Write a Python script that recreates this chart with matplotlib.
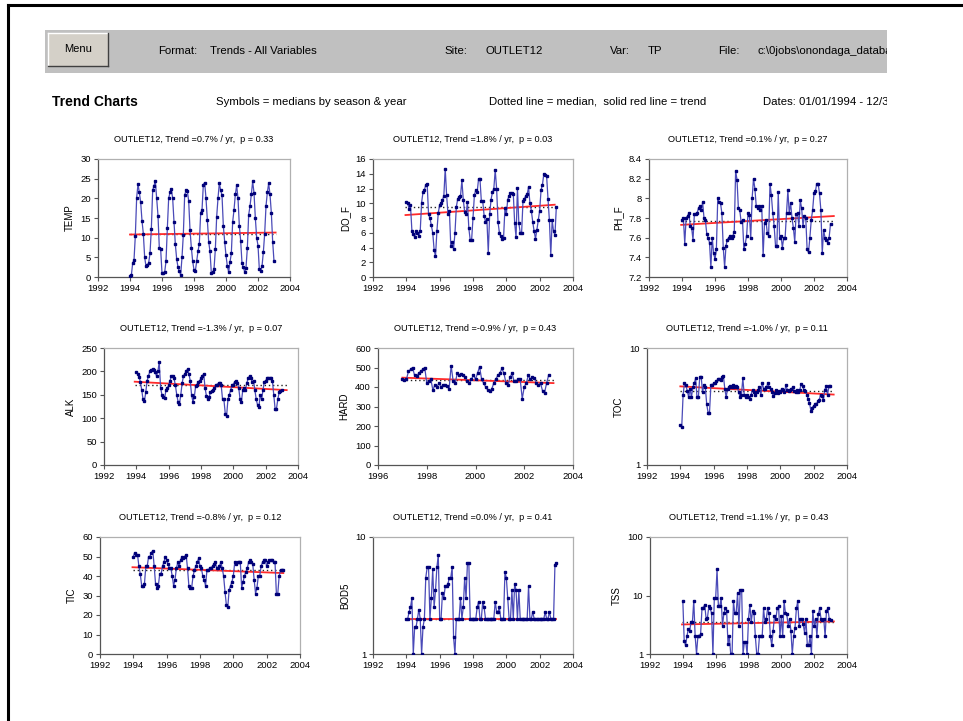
import numpy as np
import matplotlib
matplotlib.use("Agg")
import matplotlib.pyplot as plt
import matplotlib.patches as patches
from matplotlib.lines import Line2D

plt.rcParams['font.family'] = ['Liberation Sans Narrow', 'Liberation Sans', 'DejaVu Sans']

SITE = "OUTLET12"

# monthly medians, first value at start year
temp = [0.2, 0.4, 3.5, 4.3, 10.5, 20.2, 23.6, 21.5, 19.0, 14.3, 11.0, 5.0,
        2.7, 3.0, 3.6, 6.0, 12.2, 22.0, 23.2, 24.5, 20.0, 15.6, 7.3, 7.0,
        1.0, 1.0, 1.2, 4.0, 12.4, 20.0, 21.5, 22.3, 20.0, 14.0, 8.3, 4.6,
        2.5, 1.5, 0.5, 5.0, 10.8, 20.8, 22.0, 21.8, 19.4, 12.0, 7.5, 4.0,
        1.8, 1.5, 4.0, 6.5, 8.5, 16.3, 17.0, 23.5, 24.0, 20.0, 14.5, 9.0,
        6.5, 1.0, 1.2, 2.0, 7.0, 15.3, 20.0, 23.9, 22.0, 20.8, 13.0, 9.0,
        5.5, 2.8, 1.2, 3.8, 6.0, 14.0, 17.0, 21.0, 23.3, 20.0, 13.0, 9.2,
        3.5, 2.5, 1.3, 2.4, 7.3, 15.8, 18.0, 21.0, 24.3, 21.4, 15.0, 10.0,
        8.0, 2.0, 1.5, 2.7, 6.3, 11.0, 18.0, 21.5, 23.8, 21.0, 16.3, 9.0,
        4.0]

do_f = [10.2, 10.0, 9.2, 9.7, 6.3, 5.8, 5.4, 6.3, 6.0, 5.6, 6.2, 10.1,
        11.5, 11.8, 12.5, 12.6, 8.5, 8.0, 7.0, 6.0, 3.7, 2.8, 6.2, 8.7,
        9.8, 10.0, 10.4, 11.0, 14.7, 11.1, 8.5, 9.0, 4.2, 4.8, 3.8, 5.9,
        9.5, 10.6, 10.8, 11.0, 13.1, 10.5, 8.8, 8.5, 10.2, 6.6, 5.0, 5.0,
        8.0, 11.1, 11.8, 11.5, 13.3, 13.3, 10.3, 10.3, 8.3, 7.5, 7.8, 3.3,
        8.5, 10.5, 11.5, 12.0, 14.5, 12.0, 7.5, 6.0, 5.5, 5.2, 5.3, 9.3,
        8.5, 10.5, 11.0, 11.4, 11.4, 11.3, 7.3, 5.4, 12.1, 7.3, 6.0, 6.0,
        10.3, 10.6, 11.0, 11.2, 12.2, 10.0, 9.0, 7.5, 6.2, 5.2, 6.4, 7.7,
        9.0, 11.8, 12.5, 14.0, 13.8, 13.7, 10.6, 7.7, 3.0, 7.7, 6.2, 5.7,
        9.5]

ph_f = [7.78, 7.80, 7.54, 7.80, 7.82, 7.85, 7.72, 7.70, 7.58, 7.84, 7.84, 7.85,
        7.90, 7.92, 7.88, 7.96, 7.80, 7.78, 7.64, 7.60, 7.55, 7.30, 7.60, 7.44,
        7.38, 7.48, 8.00, 7.96, 7.95, 7.85, 7.50, 7.30, 7.52, 7.58, 7.60, 7.62,
        7.60, 7.62, 7.66, 8.28, 8.19, 7.90, 7.88, 7.76, 7.78, 7.48, 7.54, 7.62,
        7.85, 7.83, 7.60, 8.00, 8.20, 8.10, 7.92, 7.90, 7.92, 7.88, 7.92, 7.42,
        7.75, 7.78, 7.65, 7.62, 8.15, 8.03, 7.85, 7.72, 7.52, 7.52, 8.06, 7.60,
        7.62, 7.50, 7.60, 7.60, 7.85, 8.08, 7.85, 7.95, 7.80, 7.70, 7.56, 7.84,
        7.85, 7.72, 7.98, 7.90, 7.72, 7.82, 7.80, 7.48, 7.45, 7.60, 7.78, 7.88,
        8.05, 8.07, 8.15, 8.15, 8.05, 7.88, 7.44, 7.68, 7.60, 7.58, 7.55, 7.60,
        7.74]

alk = [198, 195, 188, 178, 160, 140, 137, 155, 180, 190, 200, 203,
       205, 203, 198, 190, 200, 220, 165, 150, 145, 143, 160, 165,
       170, 180, 190, 190, 185, 170, 150, 135, 130, 150, 175, 190,
       195, 200, 205, 195, 180, 150, 135, 145, 168, 172, 178, 180,
       185, 190, 195, 165, 148, 140, 145, 155, 158, 160, 165, 170,
       172, 175, 175, 170, 140, 140, 110, 105, 140, 150, 160, 170,
       172, 178, 180, 175, 165, 140, 135, 160, 165, 160, 175, 185,
       190, 185, 178, 180, 160, 140, 128, 125, 150, 140, 160, 178,
       180, 185, 185, 185, 186, 180, 150, 120, 120, 140, 155, 158,
       160]

hard = [440, 435, 440, 480, 490, 500, 460, 455, 470, 480, 490, 500,
        420, 430, 440, 385, 410, 400, 420, 400, 410, 410, 405, 390,
        510, 430, 420, 470, 460, 465, 460, 450, 430, 420, 440, 460,
        440, 470, 505, 440, 420, 400, 385, 380, 390, 420, 440, 460,
        470, 495, 470, 420, 410, 450, 470, 430, 430, 440, 440, 340,
        400, 420, 460, 440, 450, 445, 420, 410, 420, 380, 370, 420,
        460]

toc = [2.2, 2.1, 4.0, 5.0, 4.8, 4.3, 3.8, 4.5, 3.8, 4.6, 5.0, 5.5,
       3.8, 3.8, 5.7, 5.7, 4.2, 4.8, 4.6, 3.3, 2.8, 2.8, 4.8, 4.8,
       5.0, 5.0, 5.2, 5.4, 5.4, 5.3, 5.7, 5.8, 4.5, 3.8, 4.5, 4.6,
       4.7, 4.6, 4.8, 4.6, 4.7, 4.6, 4.2, 3.8, 4.0, 5.5, 4.0, 3.8,
       4.0, 3.8, 3.7, 4.0, 4.4, 4.2, 4.0, 4.2, 4.4, 4.6, 4.0, 5.0,
       4.5, 4.5, 4.6, 5.0, 4.6, 4.5, 4.2, 3.9, 4.1, 4.4, 4.1, 4.3,
       4.2, 4.5, 4.4, 4.2, 4.8, 4.4, 4.3, 4.4, 4.5, 4.6, 4.3, 4.2,
       4.4, 4.2, 4.4, 4.9, 4.7, 4.4, 4.3, 4.0, 3.7, 3.4, 2.9, 3.1,
       3.2, 3.3, 3.3, 3.5, 3.6, 4.0, 3.9, 3.6, 4.4, 4.7, 4.0, 4.7,
       4.7]

tic = [50, 52, 51, 51, 45, 41, 35, 35, 36, 45, 45, 50,
       50, 52, 53, 45, 36, 34, 35, 41, 41, 45, 47, 50,
       48, 46, 44, 44, 40, 35, 38, 44, 47, 45, 48, 50,
       49, 50, 51, 44, 35, 34, 34, 40, 43, 45, 47, 49,
       45, 44, 40, 38, 35, 43, 43, 44, 44, 45, 46, 47,
       44, 44, 45, 47, 44, 40, 32, 25, 24, 33, 35, 37,
       40, 47, 46, 47, 47, 47, 34, 37, 40, 42, 44, 47,
       48, 47, 46, 38, 31, 34, 40, 40, 45, 47, 48, 48,
       45, 47, 48, 48, 48, 47, 47, 31, 31, 40, 43, 43,
       43]

bod5 = [2.0, 2.0, 2.3, 2.5, 3.0, 1.0, 1.7, 1.7, 2.0, 2.4, 2.0, 1.0,
        1.7, 2.0, 4.5, 5.5, 5.5, 2.0, 3.0, 5.3, 2.5, 3.5, 5.5, 7.0,
        2.0, 2.0, 3.3, 3.0, 3.8, 3.8, 4.0, 4.5, 4.5, 5.5, 1.4, 1.0,
        2.0, 2.0, 2.0, 3.0, 2.0, 2.5, 4.5, 3.0, 6.0, 6.0, 2.0, 2.0,
        2.0, 2.0, 2.0, 2.5, 2.8, 2.0, 2.0, 2.8, 2.5, 2.0, 2.0, 2.0,
        2.0, 2.0, 2.0, 2.0, 2.8, 2.3, 2.3, 2.5, 2.0, 2.0, 2.0, 5.0,
        4.5, 3.0, 2.0, 2.0, 3.5, 2.0, 4.0, 3.5, 2.0, 3.5, 2.0, 2.0,
        2.0, 2.0, 2.0, 2.0, 3.8, 2.0, 2.0, 2.3, 2.0, 2.0, 2.0, 2.0,
        2.0, 2.0, 2.0, 2.0, 2.3, 2.0, 2.0, 2.3, 2.0, 2.0, 2.0, 5.8,
        6.0]

tss = [8.0, 1.7, 1.4, 2.0, 2.7, 2.5, 3.5, 3.5, 8.2, 2.0, 1.0, 2.0,
       2.0, 2.2, 6.0, 6.2, 7.0, 4.0, 4.2, 6.5, 6.0, 5.0, 1.0, 9.0,
       9.0, 28.0, 6.5, 6.5, 9.0, 3.0, 5.0, 6.0, 5.5, 1.5, 2.0, 1.0,
       1.0, 8.0, 5.0, 5.0, 11.0, 3.0, 12.5, 12.5, 1.0, 1.6, 1.6, 1.0,
       4.0, 7.0, 3.5, 5.5, 5.0, 2.0, 1.0, 1.0, 2.0, 2.0, 2.0, 6.0,
       3.5, 4.0, 6.0, 5.0, 2.0, 1.4, 2.5, 4.5, 4.0, 6.0, 6.5, 2.0,
       4.5, 2.0, 8.0, 5.0, 4.8, 3.0, 4.0, 2.5, 1.0, 2.0, 2.8, 6.0,
       8.0, 3.0, 4.0, 4.0, 3.2, 2.3, 4.0, 1.4, 1.4, 2.0, 1.0, 5.5,
       3.0, 4.0, 2.0, 4.8, 6.0, 4.0, 3.8, 4.0, 2.0, 5.5, 6.0, 4.0,
       3.8]

names = ["TEMP", "DO_F", "PH_F", "ALK", "HARD", "TOC", "TIC", "BOD5", "TSS"]
series = [temp, do_f, ph_f, alk, hard, toc, tic, bod5, tss]
starts = [1994.0, 1994.0, 1994.0, 1994.0, 1997.0, 1994.0, 1994.0, 1994.0, 1994.0]
trend_pct = ["0.7", "1.8", "0.1", "-1.3", "-0.9", "-1.0", "-0.8", "0.0", "1.1"]
p_vals = ["0.33", "0.03", "0.27", "0.07", "0.43", "0.11", "0.12", "0.41", "0.43"]
medians = [11.0, 9.5, 7.77, 170, 435, 4.3, 43, 2.0, 3.5]
trend_x = [(1994.0, 2003.1), (1993.95, 2002.9), (1993.95, 2003.2), (1993.9, 2003.3),
           (1997.0, 2003.2), (1994.0, 2003.2), (1993.95, 2003.0), (1994.0, 2003.0),
           (1993.95, 2003.2)]
trend_y = [(10.8, 11.3), (8.4, 9.8), (7.73, 7.82), (178, 160), (448, 420),
           (4.7, 4.0), (44.5, 41.5), (2.0, 2.0), (3.2, 3.6)]

y_lims = [(0, 30), (0, 16), (7.2, 8.4), (0, 250), (0, 600), (1, 10), (0, 60), (1, 10), (1, 100)]
y_steps = [5, 2, 0.2, 50, 100, None, 10, None, None]
x_lims = [(1992, 2004)] * 4 + [(1996, 2004)] + [(1992, 2004)] * 4

# axes boxes in pixels: left, right, top, bottom
W, H = 963, 721
boxes = [(98, 290, 159, 277), (373, 573, 159, 277), (649, 847, 159, 277),
         (104, 298, 348, 465), (378, 573, 348, 465), (647, 847, 348, 465),
         (100, 300, 537, 654), (373, 573, 537, 654), (650, 847, 537, 654)]

fig = plt.figure(figsize=(W / 100, H / 100), dpi=100)
fig.patch.set_facecolor("white")

# window frame lines
fig.add_artist(Line2D([8 / W, 1], [1 - 5 / H, 1 - 5 / H], color="black", lw=2.2))
fig.add_artist(Line2D([8 / W, 8 / W], [0, 1 - 5 / H], color="black", lw=2.2))

# grey toolbar
fig.add_artist(patches.Rectangle((45 / W, 1 - 73 / H), (887 - 45) / W, 43 / H,
                                 transform=fig.transFigure, facecolor="#c0c0c0",
                                 edgecolor="none"))
fig.add_artist(patches.Rectangle((48 / W, 1 - 66 / H), 60 / W, 33 / H,
                                 transform=fig.transFigure, facecolor="#d4d0c8",
                                 edgecolor="none"))
fig.add_artist(Line2D([48 / W, 108 / W], [1 - 33 / H, 1 - 33 / H], color="white", lw=1))
fig.add_artist(Line2D([48 / W, 48 / W], [1 - 66 / H, 1 - 33 / H], color="white", lw=1))
fig.add_artist(Line2D([48 / W, 108 / W], [1 - 66 / H, 1 - 66 / H], color="#404040", lw=1))
fig.add_artist(Line2D([108 / W, 108 / W], [1 - 66 / H, 1 - 33 / H], color="#404040", lw=1))
fig.text(78 / W, 1 - 49 / H, "Menu", ha="center", va="center", fontsize=8)

clip_box = patches.Rectangle((0, 0), 887, H, transform=None)

bar_y = 1 - 51 / H
bar_text = [(158, "Format:"), (210, "Trends - All Variables"), (444, "Site:"),
            (486, SITE), (610, "Var:"), (648, "TP"), (718, "File:")]
for px, s in bar_text:
    fig.text(px / W, bar_y, s, ha="left", va="center", fontsize=8.2)
fpath = fig.text(757 / W, bar_y, r"c:\0jobs\onondaga_database.mdb", ha="left",
                 va="center", fontsize=8.2)
fpath.set_clip_path(clip_box)

row_y = 1 - 102 / H
fig.text(52 / W, row_y, "Trend Charts", ha="left", va="center", fontsize=10, weight="bold")
fig.text(216 / W, row_y, "Symbols = medians by season & year", ha="left", va="center",
         fontsize=8.2)
fig.text(489 / W, row_y, "Dotted line = median,  solid red line = trend", ha="left",
         va="center", fontsize=8.2)
dates = fig.text(763 / W, row_y, "Dates: 01/01/1994 - 12/31/2002", ha="left",
                 va="center", fontsize=8.2)
dates.set_clip_path(patches.Rectangle((0, 0), 887, H, transform=None))

for i, name in enumerate(names):
    l, r, t, b = boxes[i]
    ax = fig.add_axes([l / W, 1 - b / H, (r - l) / W, (b - t) / H])
    vals = np.array(series[i], dtype=float)
    x = starts[i] + np.arange(len(vals)) / 12.0

    ax.plot(trend_x[i], [medians[i], medians[i]], color="#222222", lw=1.0,
            linestyle=(0, (1, 2)), zorder=2)
    ax.plot(trend_x[i], trend_y[i], color="#ff2a2a", lw=1.3, zorder=3)
    ax.plot(x, vals, color="#4a4ab8", lw=0.9, marker="s", ms=2.1,
            mfc="#000078", mec="#000078", zorder=4)

    ax.set_xlim(*x_lims[i])
    ax.set_xticks(np.arange(x_lims[i][0], x_lims[i][1] + 1, 2))
    lo, hi = y_lims[i]
    if y_steps[i] is None:
        ax.set_yscale("log")
        ax.set_ylim(lo, hi)
        ticks = [v for v in (1, 10, 100) if lo <= v <= hi]
        ax.set_yticks(ticks)
        ax.set_yticklabels([str(v) for v in ticks])
        ax.minorticks_off()
    else:
        ax.set_ylim(lo, hi)
        ticks = np.arange(lo, hi + y_steps[i] / 2, y_steps[i])
        ax.set_yticks(ticks)
        if y_steps[i] < 1:
            ax.set_yticklabels([("%.1f" % v).rstrip("0").rstrip(".") for v in ticks])

    ax.set_ylabel(name, fontsize=7, labelpad=4)
    ax.set_title("%s, Trend =%s%% / yr,  p = %s" % (SITE, trend_pct[i], p_vals[i]),
                 fontsize=6.6, pad=12)
    ax.tick_params(axis="both", labelsize=6.8, length=3, width=0.8,
                   color="#555555", direction="out", pad=2)
    for side in ("left", "bottom"):
        ax.spines[side].set_color("#555555")
        ax.spines[side].set_linewidth(0.9)
    for side in ("top", "right"):
        ax.spines[side].set_color("#b0b0b0")
        ax.spines[side].set_linewidth(0.9)

fig.savefig("out.png", dpi=100, facecolor="white")
